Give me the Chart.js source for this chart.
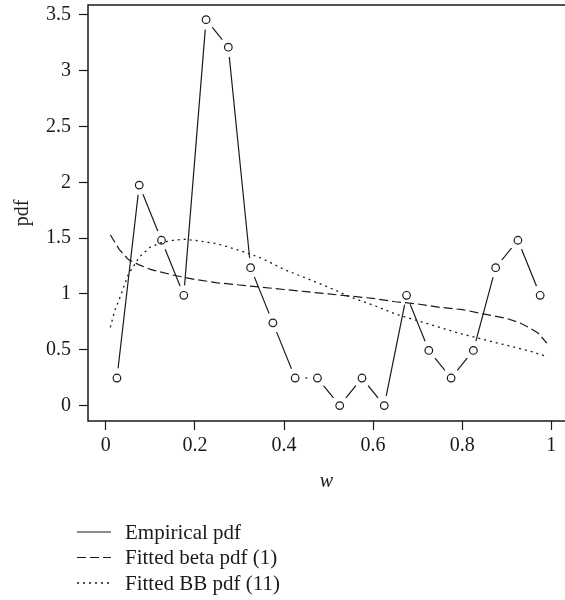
<!DOCTYPE html>
<html><head><meta charset="utf-8">
<script src="https://cdn.jsdelivr.net/npm/chart.js@4"></script>
<style>
html,body{margin:0;padding:0;overflow:hidden;background:#fff;width:565px;height:600px}
#wrap{position:absolute;left:0;top:0;width:565px;height:600px}
canvas{display:block}
</style>
</head><body>
<div id="wrap"><canvas id="c" width="565" height="600" style="width:565px;height:600px"></canvas></div>
<script>
// ---- data ----
const empX = [0.025,0.075,0.125,0.175,0.225,0.275,0.325,0.375,0.425,0.475,0.525,0.575,0.625,0.675,0.725,0.775,0.825,0.875,0.925,0.975];
const empY = [0.247,1.975,1.481,0.988,3.457,3.210,1.235,0.741,0.247,0.247,0,0.247,0,0.988,0.494,0.247,0.494,1.235,1.481,0.988];
const betaX = [0.01,0.03,0.05,0.075,0.1,0.15,0.2,0.25,0.3,0.35,0.4,0.45,0.5,0.55,0.6,0.65,0.7,0.75,0.8,0.85,0.9,0.93,0.95,0.97,0.99];
const betaY = [1.53,1.40,1.31,1.26,1.22,1.17,1.13,1.10,1.08,1.06,1.04,1.02,1.00,0.98,0.96,0.93,0.91,0.88,0.86,0.82,0.78,0.74,0.70,0.65,0.56];
const bbX = [0.01,0.02,0.03,0.05,0.075,0.1,0.125,0.15,0.175,0.2,0.25,0.3,0.35,0.4,0.45,0.5,0.55,0.6,0.65,0.7,0.75,0.8,0.85,0.9,0.95,0.99];
const bbY = [0.70,0.85,0.95,1.17,1.33,1.42,1.46,1.48,1.49,1.48,1.45,1.39,1.32,1.22,1.14,1.06,0.97,0.90,0.82,0.76,0.70,0.64,0.59,0.54,0.49,0.44];
const xTicks = [0,0.2,0.4,0.6,0.8,1];
const yTicks = [0,0.5,1,1.5,2,2.5,3,3.5];
const seriesNames = ['Empirical pdf','Fitted beta pdf (1)','Fitted BB pdf (11)'];
const xTitle = 'w';
const yTitle = 'pdf';

const INK = '#1a1a1a';
const FONT = 'Liberation Serif';
const pts = (xs, ys) => xs.map((x, i) => ({x, y: ys[i]}));
const noPad = s => { s.paddingTop = 0; s.paddingBottom = 0; s.paddingLeft = 0; s.paddingRight = 0; };

const boxLegend = {
  id: 'boxLegend',
  afterDraw(chart) {
    const {ctx, chartArea: a} = chart;
    ctx.save();
    ctx.strokeStyle = INK;
    ctx.lineWidth = 1.5;
    ctx.setLineDash([]);
    // plot box (right side lies outside the picture)
    ctx.beginPath();
    ctx.moveTo(a.right + 2, a.top);
    ctx.lineTo(a.left, a.top);
    ctx.lineTo(a.left, a.bottom);
    ctx.lineTo(a.right + 2, a.bottom);
    ctx.stroke();
    // legend
    const items = chart.data.datasets.filter(d => d.legendLabel);
    const rowY = [532, 557.5, 583];
    ctx.font = '21px "' + FONT + '"';
    ctx.textBaseline = 'middle';
    ctx.textAlign = 'left';
    items.forEach((d, i) => {
      const y = rowY[i];
      ctx.beginPath();
      ctx.lineWidth = d.borderWidth;
      ctx.strokeStyle = d.borderColor;
      ctx.setLineDash(d.borderDash || []);
      ctx.moveTo(77, y);
      ctx.lineTo(111, y);
      ctx.stroke();
      ctx.setLineDash([]);
      ctx.fillStyle = INK;
      ctx.fillText(d.legendLabel, 125, y + 1);
    });
    ctx.restore();
  }
};

new Chart(document.getElementById('c'), {
  type: 'scatter',
  data: {
    datasets: [
      {legendLabel: seriesNames[0], data: pts(empX, empY), showLine: true, borderColor: INK, borderWidth: 1.2, pointRadius: 0, order: 5},
      {data: pts(empX, empY), showLine: false, pointRadius: 10, pointBackgroundColor: '#fff', pointBorderWidth: 0, pointBorderColor: '#fff', order: 4},
      {data: pts(empX, empY), showLine: false, pointRadius: 3.8, pointBackgroundColor: '#fff', pointBorderColor: INK, pointBorderWidth: 1.2, order: 3},
      {legendLabel: seriesNames[1], data: pts(betaX, betaY), showLine: true, borderColor: INK, borderWidth: 1.2, borderDash: [9, 4], pointRadius: 0, order: 2},
      {legendLabel: seriesNames[2], data: pts(bbX, bbY), showLine: true, borderColor: INK, borderWidth: 1.3, borderDash: [2, 4], pointRadius: 0, order: 1}
    ]
  },
  options: {
    animation: false,
    responsive: false,
    events: [],
    layout: {autoPadding: false, padding: {left: 0, top: 5, right: 0, bottom: 0}},
    plugins: {legend: {display: false}, tooltip: {enabled: false}},
    scales: {
      x: {
        type: 'linear', min: -0.04, max: 1.0307,
        afterBuildTicks: s => { s.ticks = xTicks.map(v => ({value: v})); },
        afterFit: s => { s.height = 179; noPad(s); },
        grid: {drawOnChartArea: false, drawTicks: true, tickLength: 9, tickColor: INK, tickWidth: 1.2},
        border: {display: false},
        ticks: {padding: 4, color: INK, font: {family: FONT, size: 20}, maxRotation: 0, autoSkip: false, callback: v => String(v)},
        title: {display: true, text: xTitle, color: INK, font: {family: FONT, size: 20, style: 'italic'}, padding: {top: 0, bottom: 106}}
      },
      y: {
        type: 'linear', min: -0.138, max: 3.588,
        afterBuildTicks: s => { s.ticks = yTicks.map(v => ({value: v})); },
        afterFit: s => { s.width = 88; noPad(s); },
        grid: {drawOnChartArea: false, drawTicks: true, tickLength: 9, tickColor: INK, tickWidth: 1.2},
        border: {display: false},
        ticks: {padding: 8, color: INK, font: {family: FONT, size: 20}, autoSkip: false, callback: v => String(v)},
        title: {display: true, text: yTitle, color: INK, font: {family: FONT, size: 20}, padding: {top: 11, bottom: 0}}
      }
    }
  },
  plugins: [boxLegend]
});
</script>
</body></html>
